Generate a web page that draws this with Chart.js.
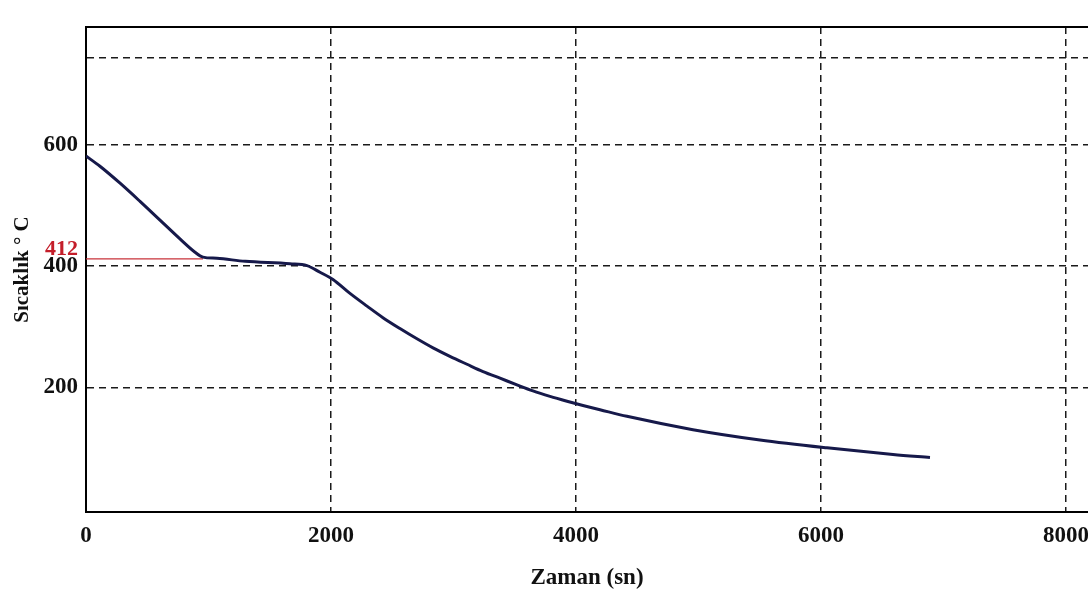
<!DOCTYPE html>
<html>
<head>
<meta charset="utf-8">
<script src="https://cdn.jsdelivr.net/npm/chart.js@4/dist/chart.umd.min.js"></script>
<style>
  html, body { margin: 0; padding: 0; background: #ffffff; }
  #wrap { width: 1088px; height: 595px; position: relative; }
</style>
</head>
<body>
<div id="wrap"><canvas id="c"></canvas></div>
<script>
// Cooling curve: time (s) against temperature (°C)
const timeSec = [0, 114, 278, 441, 604, 767, 890, 955, 1069, 1300, 1665, 1804, 1910, 2016, 2155, 2294, 2424, 2563, 2702, 2833, 2971, 3110, 3241, 3380, 3518, 3649, 3788, 3927, 4057, 4196, 4416, 4955, 5502, 6049, 6588, 6890];
const tempC   = [582, 565, 537, 507, 476, 445, 423, 415, 413, 408, 404, 401, 390, 378, 355, 334, 315, 297, 280, 265, 251, 238, 226, 215, 204, 194, 185, 177, 170, 163, 152, 130, 113, 100, 89, 84];

// Plateau (arrest) temperature marker
const arrestTemp = 412;
const arrestSpan = [0, 955];

// Axis ticks
const xTicks = [0, 2000, 4000, 6000, 8000];
const xTickLabels = ['0', '2000', '4000', '6000', '8000'];
const yTicks = [200, 400, 600, 745];
const yTickLabels = ['200', '400', '600', ''];

const xTitle = 'Zaman (sn)';
const yTitle = 'Sıcaklık ° C';

const serifBold = { family: '"Liberation Serif", "DejaVu Serif", serif', size: 23, weight: 'bold' };
const gridColor = '#1a1a1a';
const dash = [7, 5];

const curve = timeSec.map((t, i) => ({ x: t, y: tempC[i] }));
const arrestLine = arrestSpan.map(t => ({ x: t, y: arrestTemp }));

// Solid top frame line and the red arrest label beside the y axis
const framePlugin = {
  id: 'frame',
  afterDraw(chart) {
    const { ctx, chartArea } = chart;
    const yScale = chart.scales.y;
    ctx.save();
    ctx.strokeStyle = '#000';
    ctx.lineWidth = 2;
    ctx.beginPath();
    ctx.moveTo(chartArea.left, chartArea.top);
    ctx.lineTo(chartArea.right, chartArea.top);
    ctx.stroke();

    ctx.fillStyle = '#c41e2a';
    ctx.font = 'bold 22px "Liberation Serif", serif';
    ctx.textAlign = 'right';
    ctx.textBaseline = 'alphabetic';
    ctx.fillText(String(arrestTemp), chartArea.left - 8, yScale.getPixelForValue(arrestTemp) - 4);
    ctx.restore();
  }
};

new Chart(document.getElementById('c'), {
  type: 'scatter',
  data: {
    datasets: [
      {
        label: 'arrest',
        data: arrestLine,
        showLine: true,
        borderColor: '#c8323a',
        borderWidth: 1.2,
        pointRadius: 0,
        order: 2
      },
      {
        label: 'T',
        data: curve,
        showLine: true,
        borderColor: '#16194a',
        borderWidth: 3,
        pointRadius: 0,
        cubicInterpolationMode: 'monotone',
        order: 1
      }
    ]
  },
  options: {
    responsive: true,
    maintainAspectRatio: false,
    animation: false,
    layout: { padding: { top: 27, right: 0, bottom: 0, left: 0 } },
    plugins: {
      legend: { display: false },
      tooltip: { enabled: false }
    },
    scales: {
      x: {
        type: 'linear',
        min: 0,
        max: 8180,
        afterBuildTicks: s => { s.ticks = xTicks.map(v => ({ value: v })); },
        afterFit: s => { s.height = 83; s.paddingRight = 0; s.paddingLeft = 0; },
        ticks: {
          autoSkip: false,
          maxRotation: 0,
          padding: 10,
          color: '#111',
          font: serifBold,
          callback: v => xTickLabels[xTicks.indexOf(v)]
        },
        grid: { color: gridColor, lineWidth: 1.5, drawTicks: false },
        border: { display: true, color: '#000', width: 2, dash: dash },
        title: {
          display: true,
          text: xTitle,
          color: '#111',
          font: serifBold,
          padding: { top: 0, bottom: 3 }
        }
      },
      y: {
        type: 'linear',
        min: -6,
        max: 795,
        afterBuildTicks: s => { s.ticks = yTicks.map(v => ({ value: v })); },
        afterFit: s => { s.width = 86; s.paddingTop = 0; s.paddingBottom = 0; },
        ticks: {
          autoSkip: false,
          padding: 8,
          color: '#111',
          font: serifBold,
          callback: v => yTickLabels[yTicks.indexOf(v)]
        },
        grid: { color: gridColor, lineWidth: 1.5, drawTicks: false },
        border: { display: true, color: '#000', width: 2, dash: dash },
        title: {
          display: true,
          text: yTitle,
          color: '#111',
          font: { family: '"Liberation Serif", "DejaVu Serif", serif', size: 21, weight: 'bold' },
          padding: { top: 10, bottom: 0 }
        }
      }
    }
  },
  plugins: [framePlugin]
});
</script>
</body>
</html>
